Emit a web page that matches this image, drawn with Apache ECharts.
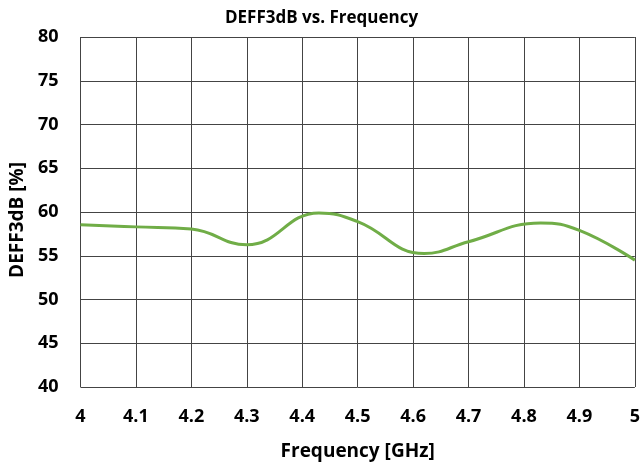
<!DOCTYPE html>
<html><head><meta charset="utf-8">
<script src="https://cdn.jsdelivr.net/npm/echarts@6/dist/echarts.min.js"></script>
<style>html,body{margin:0;padding:0;background:#fff}#c{width:643px;height:466px}</style>
</head><body><div id="c"></div>
<script>
const freq = [4.00,4.10,4.20,4.30,4.43,4.50,4.62,4.70,4.83,4.90,5.00];
const deff = [58.55,58.3,58.05,56.25,59.9,58.9,55.25,56.6,58.75,57.9,54.5];
const title = 'DEFF3dB vs. Frequency';
const xName = 'Frequency [GHz]';
const yName = 'DEFF3dB [%]';
const font = '"Open Sans", "Noto Sans", sans-serif';
const chart = echarts.init(document.getElementById('c'));
chart.setOption({
  animation:false,
  title:{text:title,left:'center',top:5,textStyle:{fontFamily:font,fontWeight:'bold',fontSize:17,color:'#000'}},
  grid:{left:80,right:7,top:37,bottom:78},
  xAxis:{type:'value',min:4,max:5,interval:0.1,
    name:xName,nameLocation:'middle',nameGap:55,
    nameTextStyle:{fontFamily:font,fontWeight:'bold',fontSize:19,color:'#000'},
    axisLine:{show:false},axisTick:{show:false},
    axisLabel:{fontFamily:font,fontWeight:'bold',fontSize:18,color:'#000',margin:21,
      formatter:v=>String(Math.round(v*10)/10)},
    splitLine:{lineStyle:{color:'#444',width:1}}},
  yAxis:{type:'value',min:40,max:80,interval:5,
    name:yName,nameLocation:'middle',nameGap:50,
    nameTextStyle:{fontFamily:font,fontWeight:'bold',fontSize:19,color:'#000',padding:[0,16,0,0]},
    axisLine:{show:false},axisTick:{show:false},
    axisLabel:{fontFamily:font,fontWeight:'bold',fontSize:18,color:'#000',margin:22},
    splitLine:{lineStyle:{color:'#444',width:1}}},
  series:[{type:'line',data:freq.map((f,i)=>[f,deff[i]]),smooth:0.45,showSymbol:false,
    lineStyle:{color:'#70AD47',width:3}}]
});
</script></body></html>
